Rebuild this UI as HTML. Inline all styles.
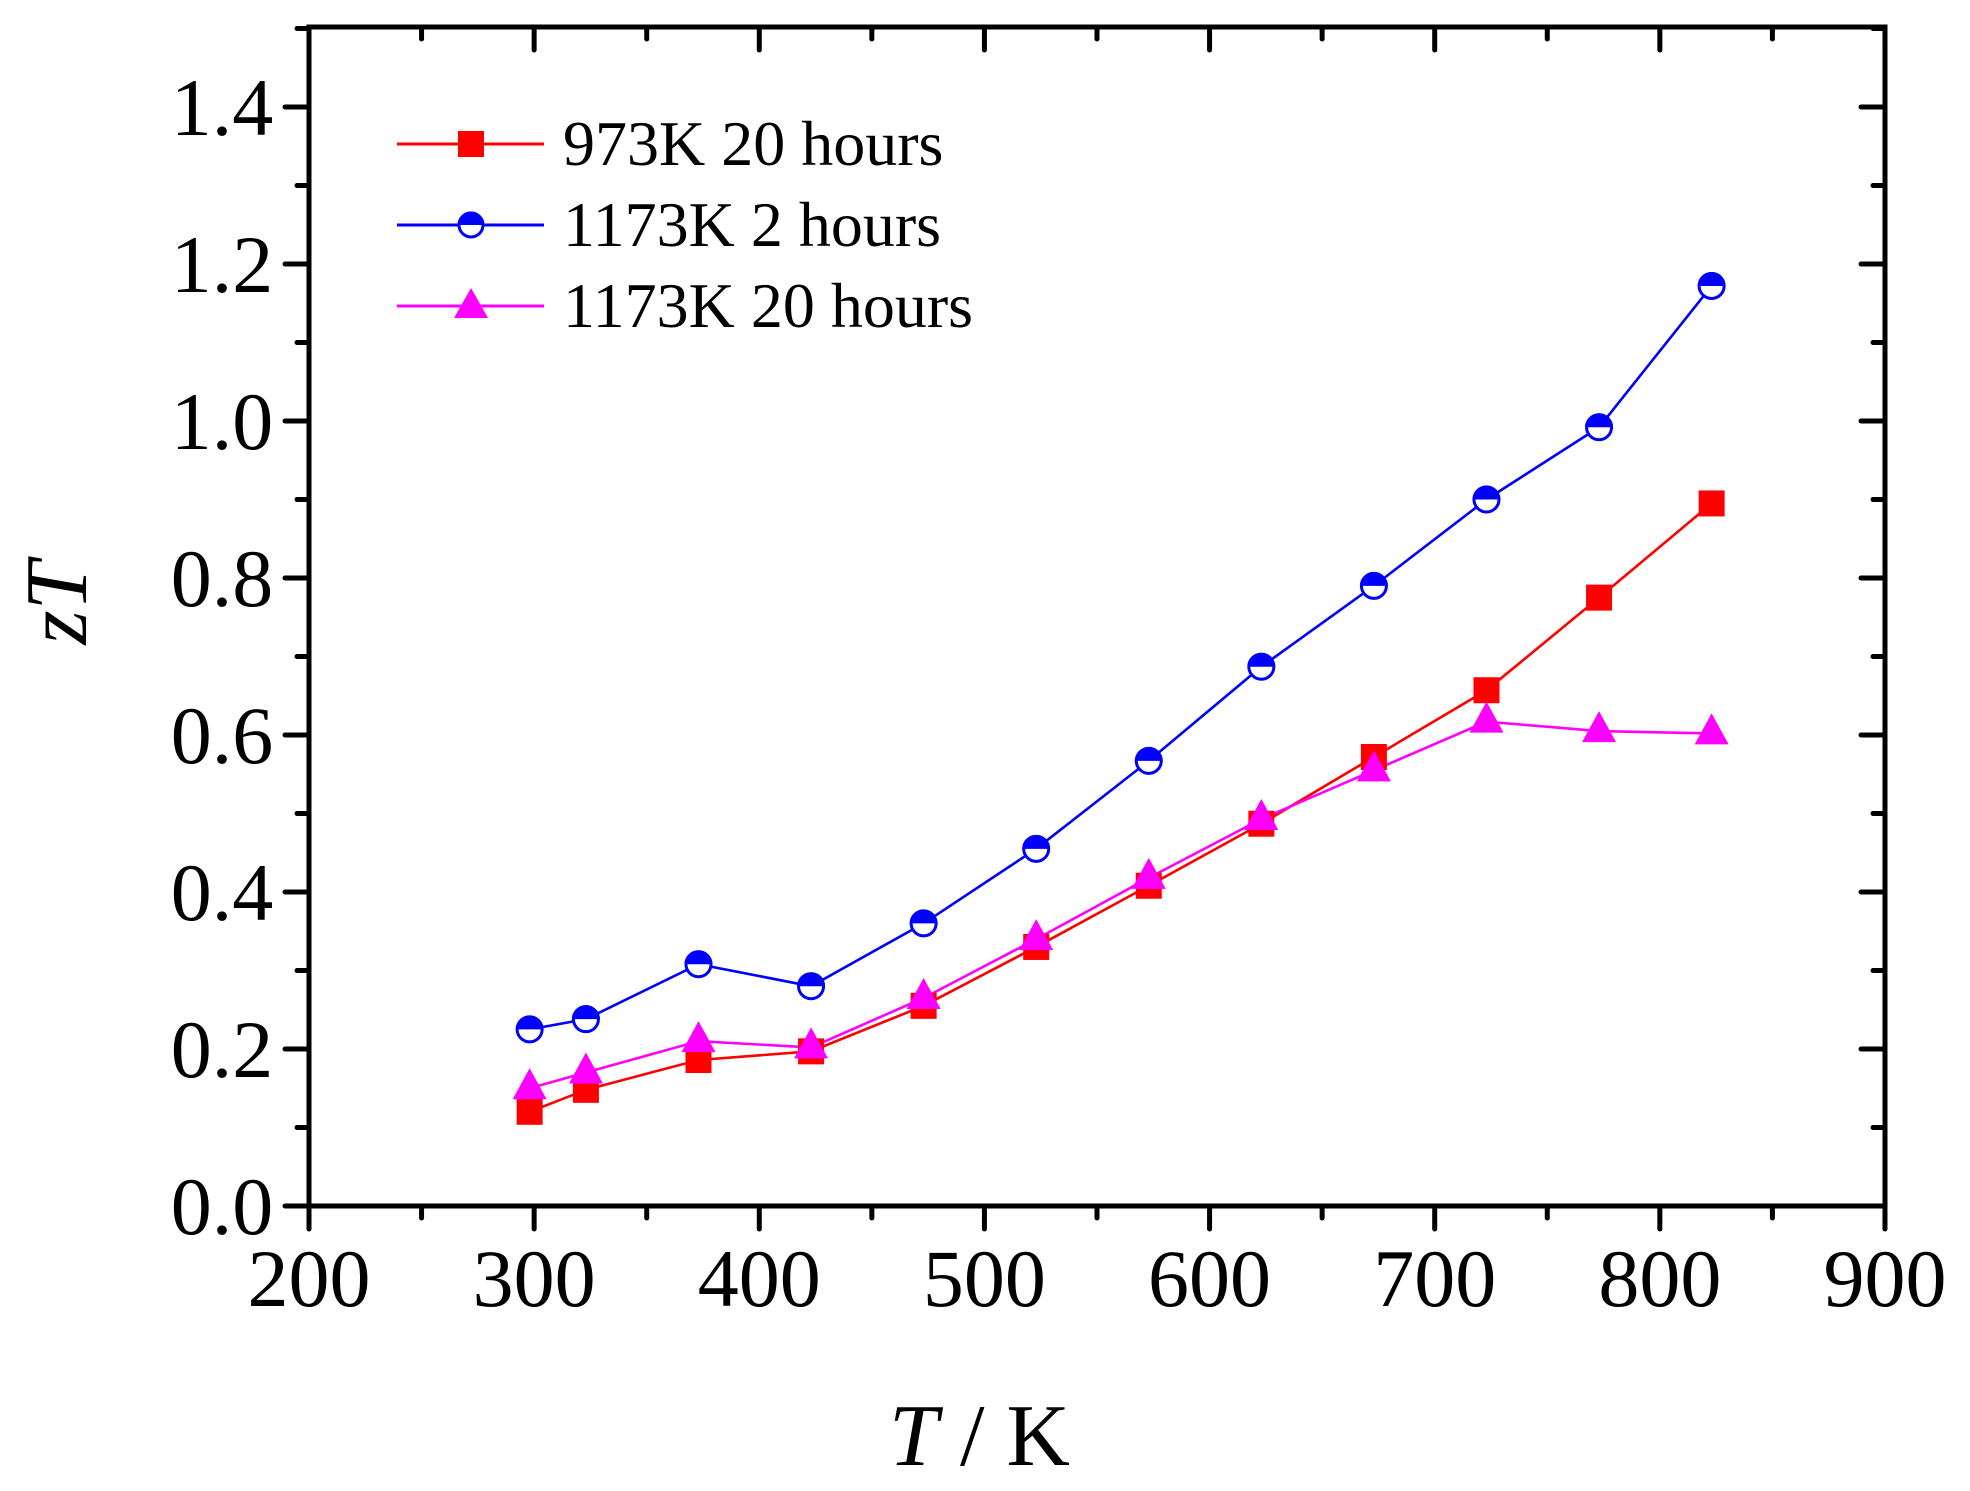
<!DOCTYPE html>
<html><head><meta charset="utf-8"><style>
html,body{margin:0;padding:0;background:#fff;}
svg{display:block;}
text{font-family:"Liberation Serif",serif;fill:#000;}
</style></head><body>
<svg width="1970" height="1491" viewBox="0 0 1970 1491" xmlns="http://www.w3.org/2000/svg">
<g id="axes" stroke="#000" stroke-width="5" fill="none" stroke-linecap="square">
<rect x="309" y="27" width="1576" height="1179"/>
</g>
<g id="ticks" stroke="#000" stroke-width="5" stroke-linecap="round"></g>
<g id="labels" font-size="82" text-anchor="middle"></g>
<g id="series"></g>
<g id="legend">
<line x1="397" y1="144" x2="544" y2="144" stroke="#f00" stroke-width="3"/>
<rect x="458" y="131" width="26" height="26" fill="#f00"/>
<text x="563" y="165" font-size="64">973K 20 hours</text>
<line x1="397" y1="225" x2="544" y2="225" stroke="#00f" stroke-width="3"/>
<g transform="translate(471,225)"><circle r="12" fill="#fff" stroke="#00f" stroke-width="3"/><path d="M-13.5 0 A13.5 13.5 0 0 1 13.5 0 Z" fill="#00f"/></g>
<text x="563" y="246" font-size="64">1173K 2 hours</text>
<line x1="397" y1="306" x2="544" y2="306" stroke="#f0f" stroke-width="3"/>
<polygon points="471,288 454,318 488,318" fill="#f0f"/>
<text x="563" y="327" font-size="64">1173K 20 hours</text>
</g>
<text x="889" y="1465" font-size="88"><tspan font-style="italic">T</tspan> / K</text>
<text transform="translate(86,603) rotate(-90)" font-size="88" text-anchor="middle" font-style="italic">zT</text>
<script>
var ns="http://www.w3.org/2000/svg";
function X(v){return 309+(v-200)*2.2514;}
function Y(v){return 1206-v*785;}
function el(p,t,a){var e=document.createElementNS(ns,t);for(var k in a)e.setAttribute(k,a[k]);p.appendChild(e);return e;}
var tk=document.getElementById('ticks'),lb=document.getElementById('labels');
for(var v=200;v<=900;v+=50){var x=X(v),maj=v%100==0,L=maj?23:12;
 el(tk,'line',{x1:x,y1:1206,x2:x,y2:1206+L});
 el(tk,'line',{x1:x,y1:27,x2:x,y2:27+L});
 if(maj){var t=el(lb,'text',{x:x,y:1306});t.textContent=v;}}
for(var i=0;i<=15;i++){var y=Y(i/10),maj=i%2==0,L=maj?24:12;
 el(tk,'line',{x1:309,y1:y,x2:309-L,y2:y});
 el(tk,'line',{x1:1885,y1:y,x2:1885-L,y2:y});
 if(maj&&i<=14){var t=el(lb,'text',{x:222,y:y+28});t.textContent=(i/10).toFixed(1);}}
var T=[298,323,373,423,473,523,573,623,673,723,773,823];
var red=[.12,.148,.186,.197,.255,.33,.408,.487,.572,.657,.775,.895];
var blue=[.225,.238,.308,.28,.36,.455,.567,.687,.79,.9,.992,1.172];
var mag=[.15,.17,.21,.202,.265,.34,.418,.493,.555,.617,.605,.602];
var sg=document.getElementById('series');
function line(d,c){el(sg,'polyline',{points:T.map(function(t,i){return X(t)+','+Y(d[i]);}).join(' '),fill:'none',stroke:c,'stroke-width':2.6});}
line(red,'#f00');line(blue,'#00f');line(mag,'#f0f');
T.forEach(function(t,i){el(sg,'rect',{x:X(t)-13,y:Y(red[i])-13,width:26,height:26,fill:'#f00'});});
T.forEach(function(t,i){var g=el(sg,'g',{transform:'translate('+X(t)+','+Y(blue[i])+')'});
 el(g,'circle',{r:12.5,fill:'#fff',stroke:'#00f','stroke-width':3});
 el(g,'path',{d:'M-14 0 A14 14 0 0 1 14 0 Z',fill:'#00f'});});
T.forEach(function(t,i){var x=X(t),y=Y(mag[i]);
 el(sg,'polygon',{points:x+','+(y-20)+' '+(x-17)+','+(y+11)+' '+(x+17)+','+(y+11),fill:'#f0f'});});
</script>
</svg>
</body></html>
